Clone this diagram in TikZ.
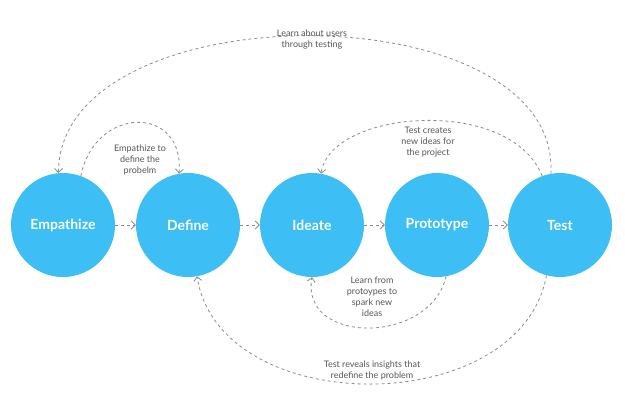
\documentclass[tikz,border=0pt]{standalone}
\usepackage{fontspec}
\setmainfont{Lato}
\usetikzlibrary{arrows.meta,positioning}
\definecolor{stage}{HTML}{3DBEF5}
\definecolor{linegray}{HTML}{8A8A8A}
\definecolor{textgray}{HTML}{555555}
\begin{document}
\begin{tikzpicture}[x=1pt,y=-1pt]
\tikzstyle{stage}=[circle,fill=stage,minimum size=104pt,inner sep=0pt,
text=white,font=\fontsize{14}{16}\selectfont\bfseries]
\tikzstyle{flow}=[draw=linegray,thick,dashed,-{Straight Barb[length=4pt]}]
\tikzstyle{note}=[align=center,text=textgray,font=\fontsize{9}{11}\selectfont]
\useasboundingbox (0,0) rectangle (625,413);
\node[stage] at (63,225) (emp) {Empathize};
\node[stage] at (188,225) (def) {Define};
\node[stage] at (312,225) (ide) {Ideate};
\node[stage] at (437,225) (pro) {Prototype};
\node[stage] at (560,225) (tst) {Test};

\path[flow] (emp) edge (def) ;
\path[flow] (def) edge (ide) ;
\path[flow] (ide) edge (pro) ;
\path[flow] (pro) edge (tst) ;

\draw[flow] (tst.100) .. controls (560,-10) and (60,-10) .. (emp.95) ;
\draw[flow] (emp.70) .. controls (95,105) and (185,105) .. (def.100) ;
\draw[flow] (tst.110) .. controls (510,95) and (330,110) .. (ide.80) ;
\draw[flow] (pro.-80) .. controls (430,345) and (300,345) .. (ide.-90) ;
\draw[flow] (tst.-105) .. controls (520,420) and (220,420) .. (def.-80) ;

\node[note] at (312,40) (n1) {Learn about users\\through testing};
\node[note] at (140,160) (n2) {Empathize to\\define the\\probelm};
\node[note] at (428,142) (n3) {Test creates\\new ideas for\\the project};
\node[note] at (372,297) (n4) {Learn from\\protoypes to\\spark new\\ideas};
\node[note] at (372,370) (n5) {Test reveals insights that\\redefine the problem};
\end{tikzpicture}
\end{document}
